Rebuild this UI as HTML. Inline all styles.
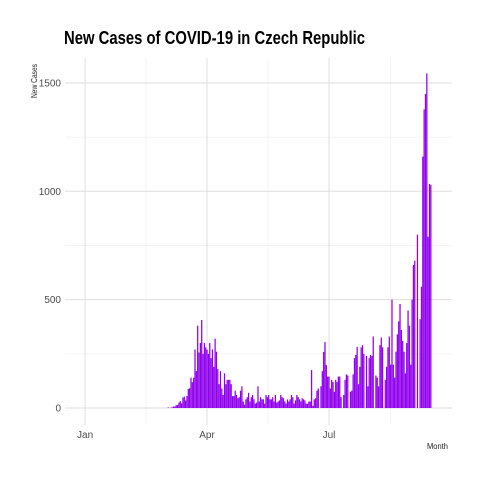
<!DOCTYPE html>
<html><head><meta charset="utf-8">
<style>
html,body{margin:0;padding:0;background:#fff;}
svg{display:block;font-family:"Liberation Sans",Arial,sans-serif;}
</style></head>
<body>
<svg id="chart" width="480" height="480" viewBox="0 0 480 480">
  <rect width="480" height="480" fill="#fff"/>
  <g id="grid"></g>
  <g id="bars"></g>
  <g id="axes"></g>
  <text x="64" y="44" font-size="18" font-weight="bold" fill="#000" textLength="301" lengthAdjust="spacingAndGlyphs">New Cases of COVID-19 in Czech Republic</text>
  <text transform="translate(37,81) rotate(-90)" text-anchor="middle" font-size="8.5" fill="#222" textLength="34" lengthAdjust="spacingAndGlyphs">New Cases</text>
  <text x="448" y="449" text-anchor="end" font-size="8.5" fill="#222" textLength="21" lengthAdjust="spacingAndGlyphs">Month</text>
</svg>
<script>
const mar = [0,0,3,0,2,3,7,7,13,14,25,32,22,48,53,35,56,88,91,140,119,140,270,170,380,256,300,406,250,301,280];
const apr = [269,250,300,230,270,190,320,260,180,110,170,90,60,160,110,130,130,130,110,55,55,80,60,45,50,80,100,30,15,40];
const may = [50,70,30,50,60,40,20,25,100,30,50,40,40,20,60,50,60,40,40,50,30,60,25,30,35,60,50,45,30,20,40];
const jun = [30,40,60,50,20,35,60,50,40,30,45,40,35,20,20,30,30,175,10,40,45,80,90,0,100,170,259,304,198,145];
const jul = [145,90,130,120,75,130,120,145,145,50,0,60,130,155,150,0,75,80,155,230,245,282,110,190,280,290,250,0,240,100,230];
const aug = [245,240,330,0,150,140,100,290,325,280,0,130,190,280,330,200,500,200,140,260,340,400,480,360,310,260,160,300,450,380,200];
const sep = [500,660,680,0,800,0,410,560,1160,1378,1449,1544,790,1034,1030];
const yTicks = [0,500,1000,1500];
const yMinor = [250,750,1250];
const xTickLabels = ["Jan","Apr","Jul"];
const xTickDays = [-60,31,122];
const xMinorDays = [-14.5,76.5,168];
const values = [].concat(mar,apr,may,jun,jul,aug,sep);

const NS="http://www.w3.org/2000/svg";
const x0=165.5, dayW=1.34;
function xs(d){return x0+d*dayW;}
function ys(v){return 408-v*0.2167;}
function mk(tag,attrs,parent){const e=document.createElementNS(NS,tag);for(const k in attrs)e.setAttribute(k,attrs[k]);parent.appendChild(e);return e;}
const grid=document.getElementById('grid'), bars=document.getElementById('bars'), axes=document.getElementById('axes');
const L=65, R=452, T=58, B=425;
yMinor.forEach(v=>{const l=mk('line',{x1:L,x2:R,y1:ys(v),y2:ys(v),stroke:'#efefef','stroke-width':0.7},grid);

});
xMinorDays.forEach(d=>{const l=mk('line',{x1:xs(d),x2:xs(d),y1:T,y2:B,stroke:'#efefef','stroke-width':0.7},grid);

});
yTicks.forEach(v=>{const l=mk('line',{x1:L,x2:R,y1:ys(v),y2:ys(v),stroke:'#dedede','stroke-width':1},grid);


const t=mk('text',{x:61,y:ys(v)+3.5,'text-anchor':'end','font-size':10,fill:'#4d4d4d'},axes);
t.textContent=v;

});
xTickDays.forEach((d,i)=>{const l=mk('line',{x1:xs(d),x2:xs(d),y1:T,y2:B,stroke:'#dedede','stroke-width':1},grid);


const t=mk('text',{x:xs(d),y:438,'text-anchor':'middle','font-size':10,fill:'#4d4d4d'},axes);
t.textContent=xTickLabels[i];

});
values.forEach((v,i)=>{if(v<=0)return;const cx=xs(i);
const r=mk('rect',{x:cx-0.6,y:ys(v),width:1.25,height:408-ys(v),fill:'#9000EE'},bars);

});
</script>
</body></html>
